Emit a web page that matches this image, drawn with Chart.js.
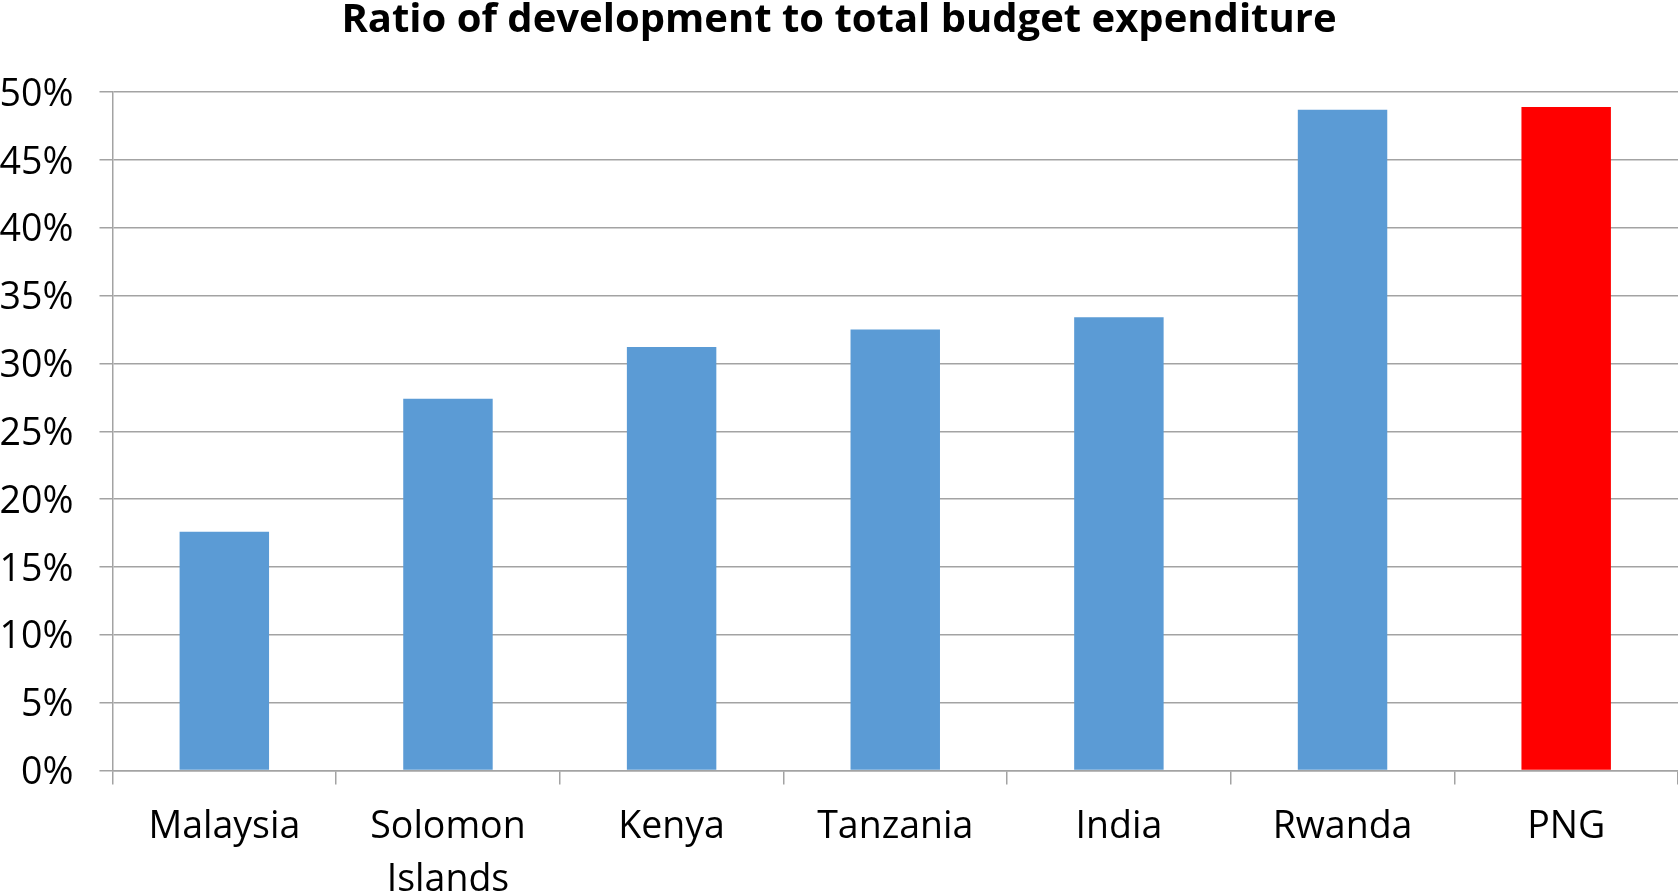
<!DOCTYPE html>
<html>
<head>
<meta charset="utf-8">
<script src="https://cdn.jsdelivr.net/npm/chart.js@4.4.1/dist/chart.umd.min.js"></script>
<style>
  html, body { margin: 0; padding: 0; background: #fff; }
  #wrap { width: 1678px; height: 896px; }
</style>
</head>
<body>
<div id="wrap"><canvas id="ratioChart" width="1678" height="896"></canvas></div>
<script>
const countries = ['Malaysia', ['Solomon', 'Islands'], 'Kenya', 'Tanzania', 'India', 'Rwanda', 'PNG'];
const devRatio = [17.6, 27.4, 31.2, 32.5, 33.4, 48.7, 48.9];
const yTicks = [0, 5, 10, 15, 20, 25, 30, 35, 40, 45, 50];

const blue = '#5B9BD5';
const red = '#FF0000';
const gridGrey = '#a3a3a3';
const barColors = countries.map((c, i) => i === countries.length - 1 ? red : blue);

const ctx = document.getElementById('ratioChart').getContext('2d');
new Chart(ctx, {
  type: 'bar',
  data: {
    labels: countries,
    datasets: [{
      data: devRatio,
      backgroundColor: barColors,
      borderWidth: 0,
      barPercentage: 0.4,
      categoryPercentage: 1.0
    }]
  },
  options: {
    responsive: false,
    animation: false,
    layout: { padding: { left: 0, right: 0, top: 0, bottom: 0 } },
    plugins: {
      legend: { display: false },
      tooltip: { enabled: false },
      title: {
        display: true,
        text: 'Ratio of development to total budget expenditure',
        color: '#000',
        font: { family: 'Open Sans', size: 40, weight: 'bold', lineHeight: '42px' },
        padding: { top: 0, bottom: 50 }
      }
    },
    scales: {
      x: {
        grid: {
          display: true,
          drawOnChartArea: false,
          drawTicks: true,
          tickLength: 14,
          color: gridGrey,
          lineWidth: 1.5
        },
        border: { display: true, color: gridGrey, width: 1.5 },
        ticks: {
          color: '#000',
          padding: 17,
          maxRotation: 0,
          autoSkip: false,
          font: { family: 'Open Sans', size: 37.5, lineHeight: 1.4 }
        },
        afterFit: scale => { scale.height = 125.5; }
      },
      y: {
        min: 0,
        max: 50,
        afterBuildTicks: scale => { scale.ticks = yTicks.map(v => ({ value: v })); },
        grid: {
          color: gridGrey,
          lineWidth: 1.5,
          tickLength: 13,
          drawTicks: true
        },
        border: { display: true, color: gridGrey, width: 1.5 },
        ticks: {
          color: '#000',
          padding: 26,
          labelOffset: 3,
          font: { family: 'Open Sans', size: 37.5 },
          callback: v => v + '%'
        },
        afterFit: scale => { scale.width = 112.5; }
      }
    }
  }
});
</script>
</body>
</html>
